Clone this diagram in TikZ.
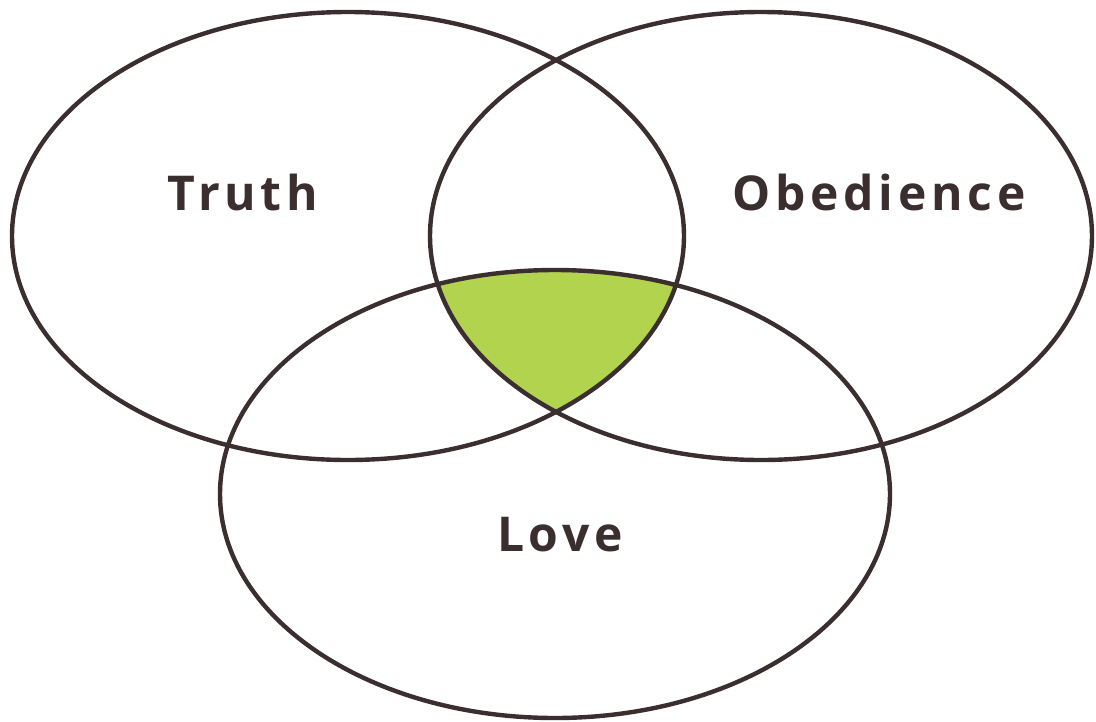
\documentclass[tikz,border=0pt]{standalone}
\usepackage{fontspec}
\setmainfont{Open Sans}[LetterSpace=10]
\usepackage{xcolor}
\definecolor{ink}{HTML}{3A2E2E}
\definecolor{leaf}{HTML}{B2D34E}
\begin{document}
\begin{tikzpicture}[x=1pt,y=-1pt,
  ring/.style={draw=ink,line width=4.4pt},
  lbl/.style={font=\fontsize{48}{52}\selectfont\bfseries,text=ink,anchor=base,inner sep=0pt}]
  \useasboundingbox (0,0) rectangle (1096,721);
  % common part of the three circles
  \begin{scope}
    \clip (348,236) ellipse [x radius=336,y radius=224];
    \clip (761,236) ellipse [x radius=331,y radius=224];
    \fill[leaf] (555,494) ellipse [x radius=335,y radius=224];
  \end{scope}
  \draw[ring] (348,236) ellipse [x radius=336,y radius=224];
  \draw[ring] (761,236) ellipse [x radius=331,y radius=224];
  \draw[ring] (555,494) ellipse [x radius=335,y radius=224];
  \node[lbl] (truth) at (243,210) {Truth};
  \node[lbl] (obedience) at (879,210) {Obedience};
  \node[lbl] (love) at (560,551) {Love};
\end{tikzpicture}
\end{document}
